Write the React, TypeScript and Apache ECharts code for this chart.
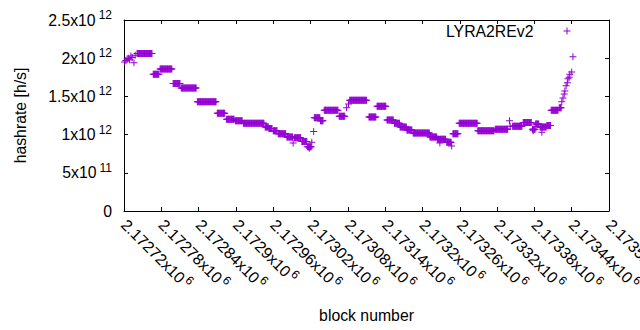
import React, { useEffect, useRef } from "react";
import * as echarts from "echarts";

// Plateaus of the per-block hashrate estimate: [first block, last block, value in 1e12 h/s]
const runStart = [
  2172741, 2172767, 2172778, 2172799, 2172812, 2172838, 2172870, 2172885, 2172899, 2172912,
  2172947, 2172953, 2172960, 2172968, 2172982, 2172994, 2173006, 2173015, 2173026, 2173036,
  2173042, 2173066, 2173083, 2173114, 2173127, 2173143, 2173155, 2173164, 2173175, 2173185,
  2173212, 2173224, 2173239, 2173249, 2173259, 2173289, 2173317, 2173345, 2173362, 2173377,
  2173382, 2173389, 2173400, 2173407, 2173420,
];
const runEnd = [
  2172765, 2172776, 2172797, 2172810, 2172836, 2172868, 2172882, 2172897, 2172910, 2172945,
  2172952, 2172958, 2172966, 2172980, 2172991, 2173004, 2173014, 2173021, 2173035, 2173040,
  2173064, 2173075, 2173110, 2173125, 2173141, 2173153, 2173163, 2173174, 2173183, 2173211,
  2173223, 2173237, 2173246, 2173257, 2173288, 2173315, 2173337, 2173360, 2173375, 2173381,
  2173387, 2173399, 2173406, 2173418, 2173423,
];
const runValue = [
  2.06, 1.79, 1.86, 1.67, 1.61, 1.43, 1.28, 1.20, 1.18, 1.15,
  1.10, 1.08, 1.05, 1.01, 0.97, 0.96, 0.91, 0.84, 1.22, 1.18,
  1.32, 1.24, 1.45, 1.23, 1.37, 1.19, 1.15, 1.10, 1.06, 1.02,
  0.97, 0.94, 0.90, 1.01, 1.15, 1.05, 1.07, 1.11, 1.16, 1.07,
  1.14, 1.10, 1.12, 1.32, 1.35,
];

// Isolated points: block and value in 1e12 h/s
const singleBlock = [
  2172721, 2172723, 2172725, 2172727, 2172729, 2172731, 2172733, 2172736, 2172738,
  2172992, 2173018, 2173022, 2173025, 2173078, 2173081, 2173228, 2173247,
  2173340, 2173341, 2173378, 2173392,
  2173424, 2173426, 2173428, 2173429, 2173431, 2173433, 2173434, 2173436, 2173437, 2173440, 2173442,
];
const singleValue = [
  1.95, 1.97, 1.99, 2.00, 1.98, 2.03, 2.01, 1.94, 2.04,
  0.89, 0.82, 0.90, 1.04, 1.35, 1.40, 0.89, 0.85,
  1.18, 1.11, 1.05, 1.03,
  1.43, 1.48, 1.53, 1.57, 1.64, 1.68, 1.73, 1.75, 1.79, 1.82, 2.02,
];

const seriesName = "LYRA2REv2";
const xMin = 2172720;
const xMax = 2173500;
const xStep = 60;
const yMin = 0;
const yMax = 2.5e12;
const yStep = 0.5e12;

const FONT = "'Liberation Sans', Arial, sans-serif";
const FS = 15.8;
const COLOR = "#9400D3";
const PLUS = "path://M0,3H7V4H0Z M3,0H4V7H3Z";

function buildPoints(): [number, number][] {
  const pts: [number, number][] = [];
  runStart.forEach((s, i) => {
    for (let b = s; b <= runEnd[i]; b++) pts.push([b, runValue[i] * 1e12]);
  });
  singleBlock.forEach((b, i) => pts.push([b, singleValue[i] * 1e12]));
  return pts;
}

function sciY(v: number): string {
  if (v === 0) return "{a|0}";
  const e = Math.floor(Math.log10(v) + 1e-9);
  const m = Number((v / Math.pow(10, e)).toFixed(4));
  return `{a|${m}x10}{s|${e}}`;
}

function sciX(v: number): string {
  const m = Number((v / 1e6).toFixed(6));
  return `{a|${m}x10}{s|6}`;
}

export default function App() {
  const ref = useRef<HTMLDivElement>(null);
  useEffect(() => {
    if (!ref.current) return;
    const chart = echarts.init(ref.current, null, { renderer: "svg" });
    const axisCommon = {
      type: "value" as const,
      axisLine: { show: true, onZero: false, lineStyle: { color: "#000", width: 1 } },
      axisTick: { show: true, inside: true, length: 4, lineStyle: { color: "#000" } },
      splitLine: { show: false },
    };
    chart.setOption({
      animation: false,
      grid: { left: 124, right: 31, top: 20, bottom: 119, containLabel: false, outerBoundsMode: "none" },
      legend: {
        data: [{ name: seriesName, icon: PLUS }],
        right: 69.5,
        top: 23,
        padding: 0,
        align: "right",
        itemWidth: 7,
        itemHeight: 7,
        selectedMode: false,
        textStyle: { fontSize: FS, fontFamily: FONT, color: "#000", padding: [0, 25, 0, 0] },
      },
      xAxis: [
        {
          ...axisCommon,
          position: "bottom",
          min: xMin,
          max: xMax,
          interval: xStep,
          name: "block number",
          nameLocation: "middle",
          nameGap: 96,
          nameTextStyle: { fontSize: FS, fontFamily: FONT, color: "#000" },
          axisLabel: {
            show: true,
            rotate: -45,
            margin: 11,
            showMinLabel: true,
            showMaxLabel: true,
            hideOverlap: false,
            formatter: sciX,
            rich: {
              a: { fontSize: FS, fontFamily: FONT, color: "#000", lineHeight: 22 },
              s: { fontSize: 12, fontFamily: FONT, color: "#000", lineHeight: 18, verticalAlign: "top", padding: [0, 0, 0, 2] },
            },
          },
        },
        {
          ...axisCommon,
          position: "top",
          min: xMin,
          max: xMax,
          interval: xStep,
          axisLabel: { show: false },
        },
      ],
      yAxis: [
        {
          ...axisCommon,
          position: "left",
          min: yMin,
          max: yMax,
          interval: yStep,
          name: "hashrate [h/s]",
          nameLocation: "middle",
          nameGap: 96,
          nameTextStyle: { fontSize: FS, fontFamily: FONT, color: "#000" },
          axisLabel: {
            show: true,
            margin: 12,
            formatter: sciY,
            rich: {
              a: { fontSize: FS, fontFamily: FONT, color: "#000", lineHeight: 22 },
              s: { fontSize: 12, fontFamily: FONT, color: "#000", lineHeight: 12, verticalAlign: "top", padding: [0, 0, 0, 3] },
            },
          },
        },
        {
          ...axisCommon,
          position: "right",
          min: yMin,
          max: yMax,
          interval: yStep,
          axisLabel: { show: false },
        },
      ],
      series: [
        {
          name: seriesName,
          type: "scatter",
          xAxisIndex: 0,
          yAxisIndex: 0,
          symbol: PLUS,
          symbolSize: 7,
          itemStyle: { color: COLOR, opacity: 1 },
          data: buildPoints(),
        },
      ],
    });
    return () => chart.dispose();
  }, []);
  return (
    <div
      ref={ref}
      style={{ position: "absolute", left: 0, top: 0, width: 640, height: 330, background: "#fff" }}
    />
  );
}
